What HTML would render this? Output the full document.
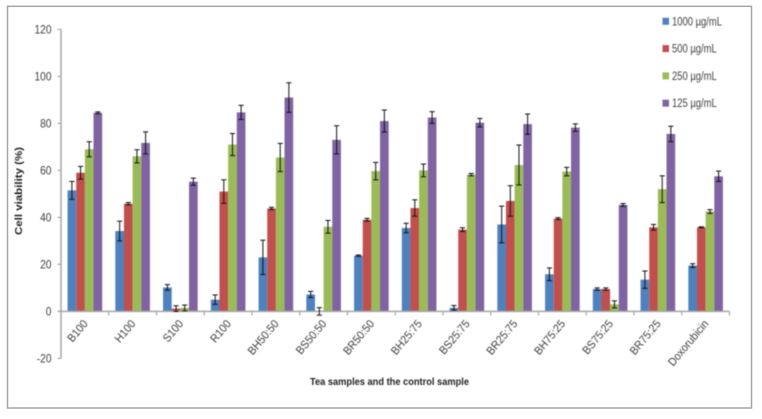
<!DOCTYPE html>
<html lang="en">
<head>
<meta charset="utf-8">
<title>Cell viability chart</title>
<style>
html,body{margin:0;padding:0;background:#fff;width:762px;height:419px;overflow:hidden}
svg{display:block}
text{font-family:"Liberation Sans",sans-serif}
</style>
</head>
<body>
<svg id="chart" width="762" height="419" viewBox="0 0 762 419" xmlns="http://www.w3.org/2000/svg">
<rect x="7.5" y="6.3" width="744" height="401.7" fill="#fff" stroke="#a6a6a6" stroke-width="1.5"/>
<g id="plot" style="filter:blur(0.4px)"></g>
</svg>
<script>
const categories = ["B100","H100","S100","R100","BH50:50","BS50:50","BR50:50","BH25:75","BS25:75","BR25:75","BH75:25","BS75:25","BR75:25","Doxorubicin"];
const seriesNames = ["1000 µg/mL","500 µg/mL","250 µg/mL","125 µg/mL"];
const seriesColors = ["#4f81bd","#c0504d","#9bbb59","#8064a2"];
const values1000 = [51.5,34.2,10.2,5,23,7.2,23.7,35.5,1.5,37,15.8,9.5,13.5,19.5];
const values500 = [59,45.8,1.2,51,43.8,0,39,44,34.8,47,39.5,9.5,35.8,35.8];
const values250 = [69,66,1.5,71,65.5,36,59.7,60,58.2,62.3,59.5,3,52,42.5];
const values125 = [84.5,71.7,55.2,84.7,91,73,81,82.5,80.3,79.7,78.2,45.3,75.5,57.5];
const errors1000 = [3.8,4.2,1.2,2,7.3,1.3,0.3,2,1,7.8,2.7,0.5,3.7,0.8];
const errors500 = [2.7,0.5,1.2,5,0.5,1.6,0.6,3.5,0.8,6.5,0.4,0.5,1.2,0.2];
const errors250 = [3.2,2.8,1.2,4.7,6,2.7,3.7,2.7,0.5,8.5,1.8,1.5,5.7,0.8];
const errors125 = [0.4,4.7,1.5,3,6.3,6,4.7,2.5,1.8,4.3,1.6,0.6,3.3,2.2];
const yTicks = [120,100,80,60,40,20,0,-20];

const allValues = [values1000,values500,values250,values125];
const allErrors = [errors1000,errors500,errors250,errors125];
const NS = "http://www.w3.org/2000/svg";
const plot = document.getElementById("plot");
const axisLeft = 61, axisRight = 729.5, zeroY = 311.4, pxPerUnit = 2.35, barW = 8.65;
const bandW = (axisRight - axisLeft) / categories.length;
const yScale = v => zeroY - v * pxPerUnit;
const xBand = i => axisLeft + i * bandW;

function mk(tag, attrs) {
  const el = document.createElementNS(NS, tag);
  for (const k in attrs) el.setAttribute(k, attrs[k]);
  plot.appendChild(el);
  return el;
}
function squeeze(el, k) {
  el.setAttribute("textLength", (el.getComputedTextLength() * k).toFixed(1));
  el.setAttribute("lengthAdjust", "spacingAndGlyphs");
}

/* bars */
categories.forEach((c, i) => {
  const start = xBand(i) + bandW / 2 - barW * 2;
  allValues.forEach((vals, s) => {
    const v = vals[i];
    const y0 = yScale(Math.max(v, 0)), y1 = yScale(Math.min(v, 0));
    const bar = mk("rect", {x: start + s * barW, y: y0, width: barW, height: y1 - y0, fill: seriesColors[s]});
    
    
  });
});

/* axes */
const yAxis = mk("line", {x1: axisLeft, x2: axisLeft, y1: yScale(120), y2: yScale(-20), stroke: "#a6a6a6", "stroke-width": 1.5});


const xAxis = mk("line", {x1: axisLeft - 3, x2: axisRight, y1: zeroY, y2: zeroY, stroke: "#a6a6a6", "stroke-width": 1.5});



yTicks.forEach(t => {
  const tick = mk("line", {x1: axisLeft - 3.5, x2: axisLeft, y1: yScale(t), y2: yScale(t), stroke: "#a6a6a6", "stroke-width": 1.2});
  
  
  const lab = mk("text", {x: 51.5, y: yScale(t) + 4.3, "text-anchor": "end", "font-size": 12, fill: "#404040"});
  lab.textContent = t;
  
  
  squeeze(lab, 0.85);
});

categories.forEach((c, i) => {
  const tick = mk("line", {x1: xBand(i + 1), x2: xBand(i + 1), y1: zeroY, y2: zeroY + 4, stroke: "#a6a6a6", "stroke-width": 1.2});
  
  
  const cx = xBand(i) + bandW / 2 + 3.5, cy = 324;
  const lab = mk("text", {x: cx, y: cy, "text-anchor": "end", "font-size": 11.5, fill: "#404040", transform: "rotate(-50 " + cx + " " + cy + ")"});
  lab.textContent = c;
  
  
  squeeze(lab, 0.92);
});

/* error bars */
categories.forEach((c, i) => {
  const start = xBand(i) + bandW / 2 - barW * 2;
  allValues.forEach((vals, s) => {
    const v = vals[i], e = allErrors[s][i];
    const x = start + s * barW + barW / 2;
    const top = yScale(v + e), bot = yScale(v - e);
    const stem = mk("line", {x1: x, x2: x, y1: top, y2: bot, stroke: "#111", "stroke-width": 1});
    
    
    [top, bot].forEach(y => {
      const cap = mk("line", {x1: x - 2.6, x2: x + 2.6, y1: y, y2: y, stroke: "#111", "stroke-width": 1});
      
      
    });
  });
});

/* legend */
seriesNames.forEach((n, s) => {
  const y = 21.3 + s * 27.3;
  const sw = mk("rect", {x: 662.5, y: y - 3.5, width: 6.5, height: 7, fill: seriesColors[s]});
  
  
  const lab = mk("text", {x: 672, y: y + 4, "font-size": 11.5, fill: "#404040"});
  lab.textContent = n;
  
  
  squeeze(lab, 0.82);
});

/* titles */
const yTitle = mk("text", {x: 0, y: 0, "text-anchor": "middle", "font-size": 10.5, "font-weight": "bold", fill: "#222", transform: "translate(22 191) rotate(-90)"});
yTitle.textContent = "Cell viability (%)";


yTitle.setAttribute("textLength", "88");
yTitle.setAttribute("lengthAdjust", "spacingAndGlyphs");

const xTitle = mk("text", {x: 389.5, y: 385, "text-anchor": "middle", "font-size": 10.5, "font-weight": "bold", fill: "#222"});
xTitle.textContent = "Tea samples and the control sample";


xTitle.setAttribute("textLength", "159");
xTitle.setAttribute("lengthAdjust", "spacingAndGlyphs");
</script>
</body>
</html>
